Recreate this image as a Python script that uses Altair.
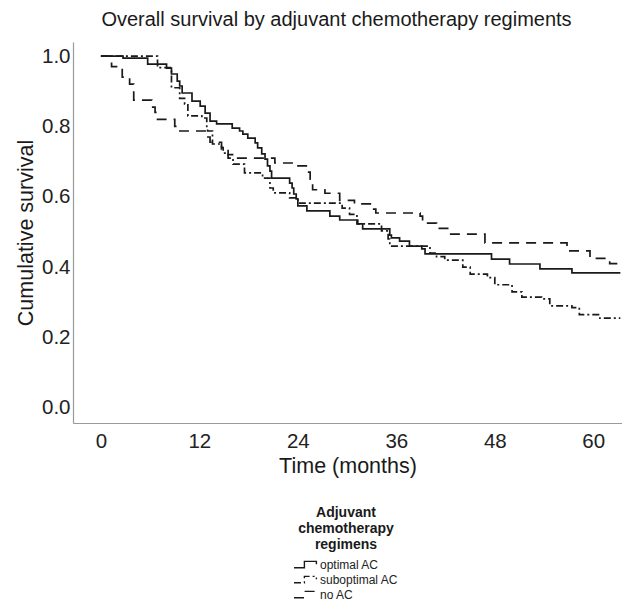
import altair as alt
import pandas as pd

# Kaplan-Meier step estimates: month at which each level starts, survival at that level
groups = ["optimal AC", "suboptimal AC", "no AC"]

optimal_month = [0, 2.7, 5.7, 8.0, 8.6, 9.3, 9.6, 9.9, 11.1, 12.1, 12.7, 13.3, 14.1, 16.0,
                 16.9, 17.3, 17.9, 18.8, 19.1, 19.6, 20.0, 20.3, 20.6, 20.8, 23.0, 23.3,
                 23.5, 23.8, 24.0, 25.1, 27.9, 29.1, 31.3, 31.9, 35.2, 35.4, 36.4, 37.6,
                 39.1, 39.5, 47.6, 49.8, 53.5, 57.4, 63.3]
optimal_surv = [1.0, 0.994, 0.977, 0.966, 0.949, 0.929, 0.915, 0.895, 0.872, 0.858, 0.838,
                0.815, 0.807, 0.795, 0.787, 0.778, 0.767, 0.753, 0.739, 0.722, 0.707, 0.688,
                0.673, 0.653, 0.639, 0.625, 0.608, 0.594, 0.574, 0.56, 0.545, 0.534, 0.523,
                0.509, 0.491, 0.483, 0.474, 0.46, 0.452, 0.438, 0.423, 0.409, 0.395, 0.384,
                0.384]

subopt_month = [0, 6.9, 8.6, 9.6, 10.2, 10.6, 12.3, 12.9, 13.0, 13.6, 14.7, 14.9, 15.5,
                16.1, 17.5, 19.7, 20.6, 21.0, 23.0, 24.0, 29.4, 30.3, 31.2, 34.2, 35.0,
                35.2, 40.1, 40.9, 41.9, 44.1, 45.0, 47.1, 48.0, 50.1, 51.3, 53.7, 54.7,
                57.4, 58.3, 60.8, 63.3]
subopt_surv = [1.0, 0.967, 0.91, 0.88, 0.864, 0.83, 0.824, 0.80, 0.787, 0.75, 0.74, 0.724,
               0.71, 0.693, 0.668, 0.653, 0.625, 0.611, 0.597, 0.582, 0.568, 0.55, 0.523,
               0.503, 0.48, 0.46, 0.44, 0.43, 0.42, 0.40, 0.38, 0.37, 0.35, 0.33, 0.315,
               0.31, 0.29, 0.285, 0.265, 0.255, 0.255]

noac_month = [0, 1.3, 2.6, 3.5, 4.0, 6.2, 6.6, 6.9, 9.0, 9.4, 12.7, 13.3, 14.7, 15.5, 16.3,
              21.2, 23.6, 25.2, 25.5, 25.8, 27.3, 29.1, 30.9, 33.0, 33.5, 38.9, 39.2, 40.9,
              42.5, 46.8, 56.8, 59.6, 62.0, 63.3]
noac_surv = [1.0, 0.97, 0.94, 0.92, 0.875, 0.855, 0.84, 0.82, 0.80, 0.787, 0.77, 0.755,
             0.735, 0.72, 0.71, 0.696, 0.688, 0.67, 0.65, 0.62, 0.61, 0.59, 0.58, 0.565,
             0.554, 0.545, 0.525, 0.51, 0.494, 0.469, 0.446, 0.425, 0.41, 0.41]

month_ticks = [0, 12, 24, 36, 48, 60]
surv_ticks = [0.0, 0.2, 0.4, 0.6, 0.8, 1.0]

rows = []
for name, months, surv in zip(groups,
                              [optimal_month, subopt_month, noac_month],
                              [optimal_surv, subopt_surv, noac_surv]):
    for m, s in zip(months, surv):
        rows.append({"group": name, "month": m, "survival": s})
df = pd.DataFrame(rows)

FONT = "Liberation Sans"
INK = "#1a1a1a"

legend = alt.Legend(
    title=["Adjuvant", "chemotherapy", "regimens"],
    orient="none",
    legendX=220,
    legendY=464,
    titleAnchor="middle",
    titleAlign="center",
    titleFont=FONT,
    titleFontSize=14,
    titleFontWeight="bold",
    titleLineHeight=16,
    titleColor=INK,
    titlePadding=4,
    labelFont=FONT,
    labelFontSize=12,
    labelColor="#222222",
    labelOffset=5,
    symbolType="M-1.5,0.35H-0.2V-0.45H1.3V-0.1",
    symbolSize=256,
    symbolStrokeWidth=1.4,
    symbolStrokeColor=INK,
    symbolFillColor="transparent",
    symbolOffset=4,
    rowPadding=0,
)

chart = (
    alt.Chart(df)
    .mark_line(interpolate="step-after", strokeWidth=1.7, color=INK)
    .encode(
        x=alt.X(
            "month:Q",
            scale=alt.Scale(domain=[-3.4, 63.5], nice=False, zero=False),
            axis=alt.Axis(values=month_ticks, title="Time (months)", labelPadding=8,
                          titlePadding=4),
        ),
        y=alt.Y(
            "survival:Q",
            scale=alt.Scale(domain=[-0.043, 1.04], nice=False, zero=False),
            axis=alt.Axis(values=surv_ticks, format=".1f", title="Cumulative survival",
                          labelPadding=3, titlePadding=4),
        ),
        strokeDash=alt.StrokeDash(
            "group:N",
            scale=alt.Scale(domain=groups, range=[[1, 0], [7, 3, 2, 3], [10, 7]]),
            legend=legend,
        ),
    )
    .properties(
        width=549,
        height=381,
        autosize=alt.AutoSizeParams(type="none"),
        padding={"left": 73, "top": 42, "right": 0, "bottom": 179},
        title=alt.Title(
            "Overall survival by adjuvant chemotherapy regiments",
            font=FONT,
            fontSize=20,
            fontWeight="normal",
            color=INK,
            anchor="middle",
            dx=-11,
            offset=12,
        ),
    )
    .configure_view(stroke=None)
    .configure_axis(
        domainColor="#9a9a9a",
        domainWidth=1.2,
        ticks=False,
        grid=False,
        labelFont=FONT,
        labelFontSize=20.5,
        labelColor="#222222",
        titleFont=FONT,
        titleFontSize=21.5,
        titleFontWeight="normal",
        titleColor=INK,
    )
)

chart.save("out.html", embed_options={"renderer": "svg", "actions": False})
